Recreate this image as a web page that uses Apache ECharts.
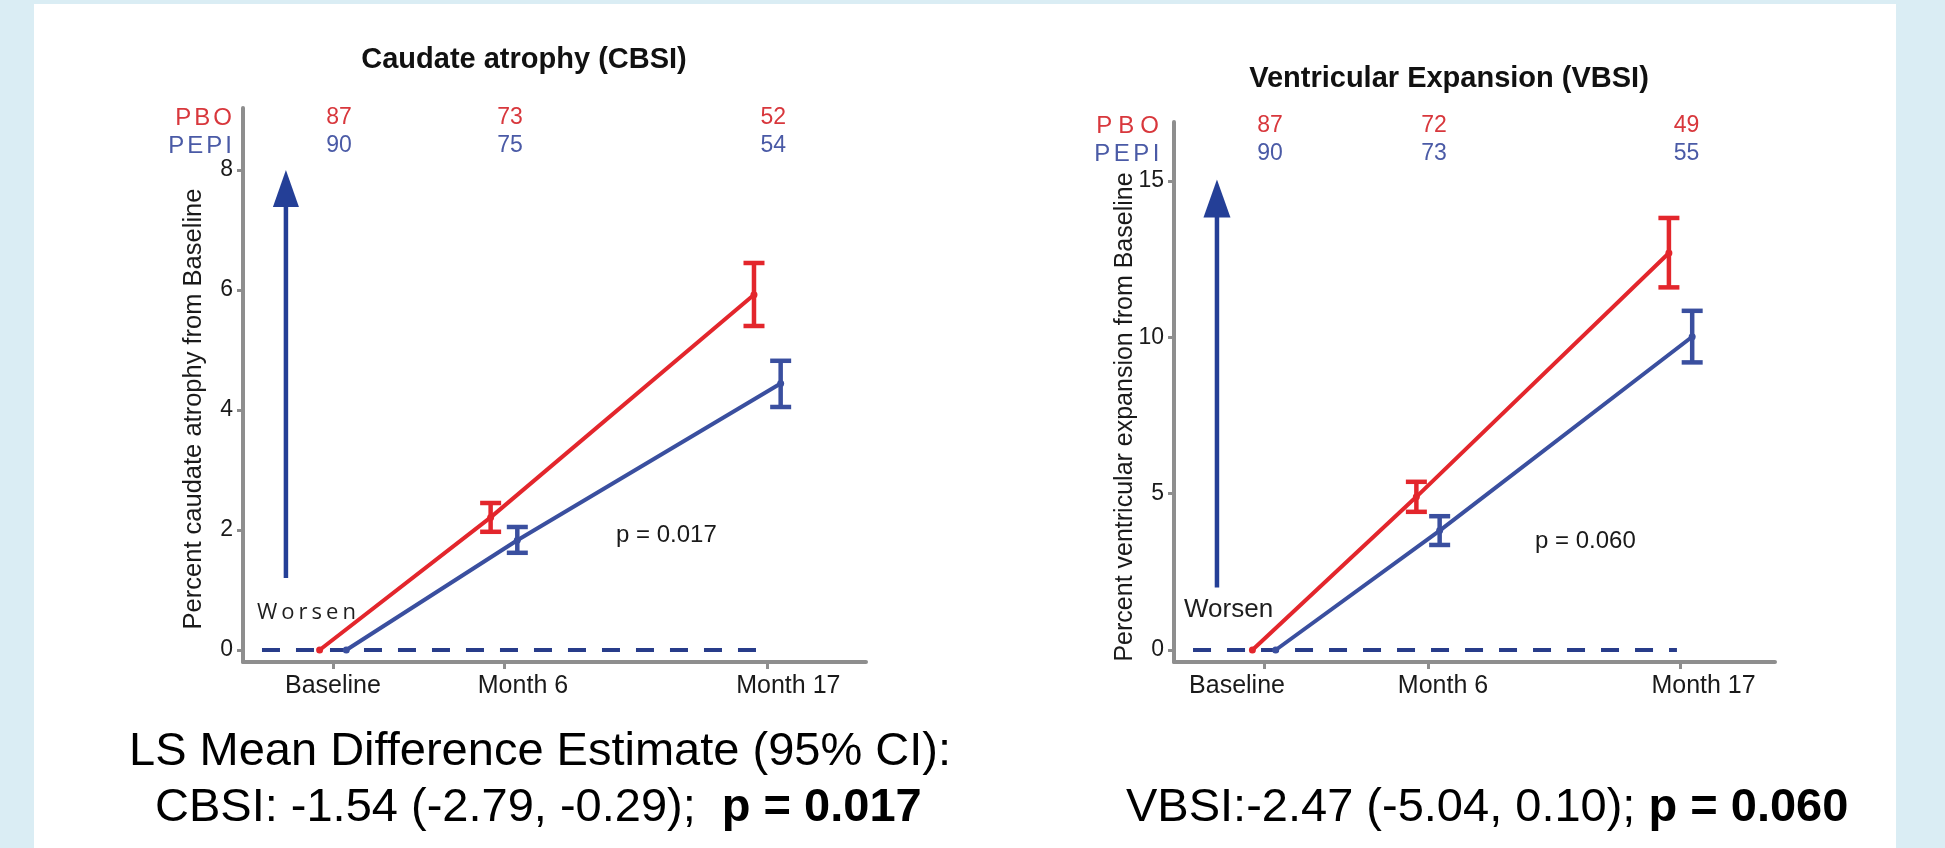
<!DOCTYPE html>
<html><head><meta charset="utf-8">
<script src="https://cdn.jsdelivr.net/npm/echarts@6/dist/echarts.min.js"></script>
<style>html,body{margin:0;padding:0;background:#daedf4;overflow:hidden}#c{width:1945px;height:848px}</style>
</head><body><div id="c"></div>
<script>
// ---------- data ----------
const categories = ['Baseline', 'Month 6', 'Month 17'];
const visitPos = [0, 1, 2.54];            // plotted position of each visit

const cbsiTicks = [0, 2, 4, 6, 8];
const cbsiPBO      = [0, 2.21, 5.92];
const cbsiPBOLow   = [0, 1.97, 5.40];
const cbsiPBOHigh  = [0, 2.45, 6.45];
const cbsiPEPI     = [0, 1.83, 4.44];
const cbsiPEPILow  = [0, 1.62, 4.05];
const cbsiPEPIHigh = [0, 2.05, 4.82];
const cbsiN_PBO  = [87, 73, 52];
const cbsiN_PEPI = [90, 75, 54];

const vbsiTicks = [0, 5, 10, 15];
const vbsiPBO      = [0, 4.90, 12.70];
const vbsiPBOLow   = [0, 4.42, 11.60];
const vbsiPBOHigh  = [0, 5.38, 13.82];
const vbsiPEPI     = [0, 3.82, 10.02];
const vbsiPEPILow  = [0, 3.36, 9.20];
const vbsiPEPIHigh = [0, 4.28, 10.85];
const vbsiN_PBO  = [87, 72, 49];
const vbsiN_PEPI = [90, 73, 55];

// reference (zero) line extent and "Worsen" arrow, in data units
const cbsiZeroLine = [-0.415, 2.49];
const vbsiZeroLine = [-0.433, 2.518];
const cbsiArrow = [-0.275, 1.2, 8.0];
const vbsiArrow = [-0.287, 2.0, 15.05];

// ---------- styles ----------
const FF = '"Liberation Sans", Arial, Helvetica, sans-serif';
const RED = '#e3262c', BLUE = '#3a4f9f';
const RED_T = '#d8373c', BLUE_T = '#4a5aa6';
const AXIS = '#8e8e8e', NAVY = '#243f97', DASH = '#283c8a';
const DODGE = 0.078;

const chart = echarts.init(document.getElementById('c'), null, {renderer: 'canvas'});

function xAxisCfg(g, min, max, shifts) {
  const rich = {};
  shifts.forEach((s, i) => {
    rich['l' + i] = {fontSize: 25, fontFamily: FF, color: '#1a1a1a',
      padding: s >= 0 ? [0, 0, 0, 2 * s] : [0, -2 * s, 0, 0]};
  });
  return {
    gridIndex: g, type: 'value', min: min, max: max,
    axisLine: {show: true, onZero: false, lineStyle: {color: AXIS, width: 4}},
    axisTick: {show: true, customValues: visitPos, length: 7, lineStyle: {color: AXIS, width: 3}},
    axisLabel: {customValues: visitPos, margin: 12, fontSize: 25, fontFamily: FF, color: '#1a1a1a',
      formatter: v => { const i = visitPos.indexOf(v); return i < 0 ? '' : '{l' + i + '|' + categories[i] + '}'; },
      rich: rich},
    splitLine: {show: false}
  };
}
function yAxisCfg(g, min, max, ticks) {
  return {
    gridIndex: g, type: 'value', min: min, max: max,
    axisLine: {show: true, onZero: false, lineStyle: {color: AXIS, width: 4}},
    axisTick: {show: true, customValues: ticks, length: 6, lineStyle: {color: AXIS, width: 3}},
    axisLabel: {customValues: ticks, margin: 10, fontSize: 23, fontFamily: FF, color: '#1a1a1a'},
    splitLine: {show: false}
  };
}
function lineSeries(g, ys, color, dx) {
  return {type: 'line', xAxisIndex: g, yAxisIndex: g, silent: true, z: 4,
    data: visitPos.map((x, i) => [x + dx, ys[i]]),
    symbol: 'circle', symbolSize: 7, showSymbol: true,
    lineStyle: {color: color, width: 4}, itemStyle: {color: color}};
}
function errSeries(g, lo, hi, color, dx) {
  return {type: 'custom', xAxisIndex: g, yAxisIndex: g, silent: true, z: 5,
    data: visitPos.map((x, i) => [x + dx, lo[i], hi[i]]).filter(d => d[2] > d[1]),
    renderItem: (params, api) => {
      const x = api.value(0);
      const a = api.coord([x, api.value(1)]), b = api.coord([x, api.value(2)]);
      const hw = 10.5, st = {stroke: color, lineWidth: 4.5};
      return {type: 'group', children: [
        {type: 'line', shape: {x1: a[0], y1: a[1], x2: b[0], y2: b[1]}, style: st},
        {type: 'line', shape: {x1: a[0] - hw, y1: a[1], x2: a[0] + hw, y2: a[1]}, style: st},
        {type: 'line', shape: {x1: b[0] - hw, y1: b[1], x2: b[0] + hw, y2: b[1]}, style: st}
      ]};
    }};
}
function zeroSeries(g, ext) {
  return {type: 'line', xAxisIndex: g, yAxisIndex: g, silent: true, z: 2,
    data: [[ext[0], 0], [ext[1], 0]], symbol: 'none',
    lineStyle: {color: DASH, width: 4, type: [18, 16]}};
}
function arrowSeries(g, arr, headW, headL) {
  return {type: 'custom', xAxisIndex: g, yAxisIndex: g, silent: true, z: 3,
    data: [arr],
    renderItem: (params, api) => {
      const base = api.coord([api.value(0), api.value(1)]);
      const tip = api.coord([api.value(0), api.value(2)]);
      return {type: 'group', children: [
        {type: 'line', shape: {x1: base[0], y1: base[1], x2: tip[0], y2: tip[1] + headL - 2}, style: {stroke: NAVY, lineWidth: 4.5}},
        {type: 'polygon', shape: {points: [[tip[0] - headW / 2, tip[1] + headL], [tip[0], tip[1]], [tip[0] + headW / 2, tip[1] + headL]]}, style: {fill: NAVY}}
      ]};
    }};
}
function countSeries(g, ns, color, rowY) {
  return {type: 'custom', xAxisIndex: g, yAxisIndex: g, silent: true, z: 5, clip: false,
    data: visitPos.map((x, i) => [x, 0, ns[i]]),
    encode: {x: 0, y: 1},
    renderItem: (params, api) => {
      const p = api.coord([api.value(0), 0]);
      return {type: 'text', x: p[0] + 6, y: rowY,
        style: {text: String(api.value(2)), fill: color, fontSize: 23, fontFamily: FF, align: 'center', verticalAlign: 'middle'}};
    }};
}
function spaced(s, key) { return s.split('').map(ch => '{' + key + '|' + ch + '}').join(''); }
function txt(x, y, text, o) {
  return {type: 'text', x: x, y: y, rotation: o.rot || 0, z: 10, silent: true,
    style: Object.assign({text: text, fill: '#1a1a1a', fontFamily: FF, fontSize: 22, align: 'left', verticalAlign: 'middle'}, o.style || {})};
}

const option = {
  backgroundColor: '#daedf4',
  animation: false,
  grid: [
    {left: 243, top: 108, width: 623, height: 554},
    {left: 1174, top: 122, width: 601, height: 540}
  ],
  xAxis: [
    xAxisCfg(0, -0.526, 3.117, [0, 19, 21]),
    xAxisCfg(1, -0.549, 3.116, [-27, 15, 23])
  ],
  yAxis: [
    yAxisCfg(0, -0.2, 9.033, cbsiTicks),
    yAxisCfg(1, -0.384, 16.89, vbsiTicks)
  ],
  series: [
    zeroSeries(0, cbsiZeroLine),
    arrowSeries(0, cbsiArrow, 26, 37),
    lineSeries(0, cbsiPBO, RED, -DODGE),
    lineSeries(0, cbsiPEPI, BLUE, DODGE),
    errSeries(0, cbsiPBOLow, cbsiPBOHigh, RED, -DODGE),
    errSeries(0, cbsiPEPILow, cbsiPEPIHigh, BLUE, DODGE),
    countSeries(0, cbsiN_PBO, RED_T, 118),
    countSeries(0, cbsiN_PEPI, BLUE_T, 146),

    zeroSeries(1, vbsiZeroLine),
    arrowSeries(1, vbsiArrow, 27, 38),
    lineSeries(1, vbsiPBO, RED, -DODGE * 0.91),
    lineSeries(1, vbsiPEPI, BLUE, DODGE * 0.91),
    errSeries(1, vbsiPBOLow, vbsiPBOHigh, RED, -DODGE * 0.91),
    errSeries(1, vbsiPEPILow, vbsiPEPIHigh, BLUE, DODGE * 0.91),
    countSeries(1, vbsiN_PBO, RED_T, 126),
    countSeries(1, vbsiN_PEPI, BLUE_T, 154)
  ],
  graphic: [
    {type: 'rect', z: -10, silent: true, shape: {x: 34, y: 4, width: 1862, height: 844}, style: {fill: '#ffffff'}},
    // titles
    txt(524, 60, 'Caudate atrophy (CBSI)', {style: {fontSize: 29, fontWeight: 'bold', align: 'center', fill: '#111'}}),
    txt(1449, 79, 'Ventricular Expansion (VBSI)', {style: {fontSize: 29, fontWeight: 'bold', align: 'center', fill: '#111'}}),
    // group labels
    txt(235, 118, spaced('PBO', 'a'), {style: {align: 'right', rich: {a: {fontSize: 24, fontFamily: FF, fill: RED_T, padding: [0, 3, 0, 0]}}}}),
    txt(235, 146, spaced('PEPI', 'a'), {style: {align: 'right', rich: {a: {fontSize: 24, fontFamily: FF, fill: BLUE_T, padding: [0, 3, 0, 0]}}}}),
    txt(1165, 126, spaced('PBO', 'a'), {style: {align: 'right', rich: {a: {fontSize: 24, fontFamily: FF, fill: RED_T, padding: [0, 6, 0, 0]}}}}),
    txt(1163, 154, spaced('PEPI', 'a'), {style: {align: 'right', rich: {a: {fontSize: 24, fontFamily: FF, fill: BLUE_T, padding: [0, 3.5, 0, 0]}}}}),
    // y axis names
    txt(194, 409, 'Percent caudate atrophy from Baseline', {rot: Math.PI / 2, style: {fontSize: 25.5, align: 'center'}}),
    txt(1125, 417, 'Percent ventricular expansion from Baseline', {rot: Math.PI / 2, style: {fontSize: 25, align: 'center'}}),
    // Worsen
    txt(257, 613, spaced('Worsen', 'w'), {style: {rich: {w: {fontSize: 22, fontFamily: '"Open Sans", sans-serif', fill: '#1e1e1e', padding: [0, 4, 0, 0]}}}}),
    txt(1184, 610, 'Worsen', {style: {fontSize: 26, fill: '#1e1e1e'}}),
    // p values
    txt(616, 535, 'p = 0.017', {style: {fontSize: 24}}),
    txt(1535, 541, 'p = 0.060', {style: {fontSize: 24}}),
    // bottom text
    txt(129, 752, 'LS Mean Difference Estimate (95% CI):', {style: {fontSize: 47, fill: '#000'}}),
    txt(155, 808, '{r|CBSI: -1.54 (-2.79, -0.29);  }{b|p = 0.017}', {style: {rich: {
      r: {fontSize: 47, fontFamily: FF, fill: '#000'},
      b: {fontSize: 47, fontFamily: FF, fontWeight: 'bold', fill: '#000'}}}}),
    txt(1126, 808, '{r|VBSI:-2.47 (-5.04, 0.10); }{b|p = 0.060}', {style: {rich: {
      r: {fontSize: 47, fontFamily: FF, fill: '#000'},
      b: {fontSize: 47, fontFamily: FF, fontWeight: 'bold', fill: '#000'}}}})
  ]
};
chart.setOption(option);
</script></body></html>
